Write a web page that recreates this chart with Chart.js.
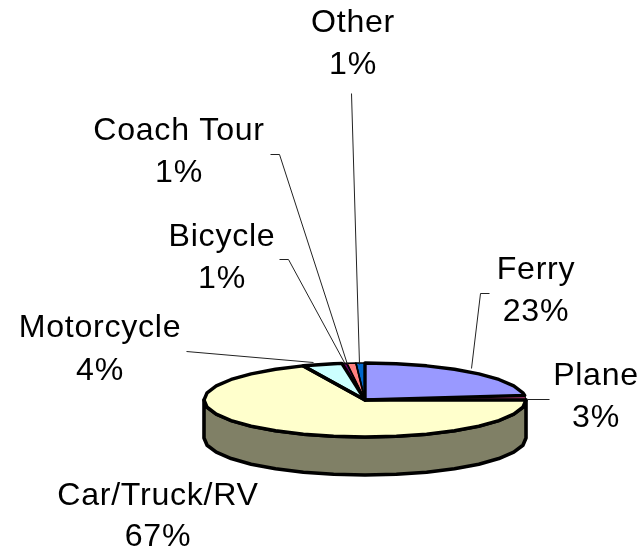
<!DOCTYPE html>
<html>
<head>
<meta charset="utf-8">
<style>html,body{margin:0;padding:0;background:#fff}#w{position:relative;width:641px;height:550px}</style>
<script src="https://cdn.jsdelivr.net/npm/chart.js@4/dist/chart.umd.min.js"></script>
</head>
<body>
<div id="w"><canvas id="c" width="641" height="550"></canvas></div>
<script>
const categories = ['Ferry','Plane','Car/Truck/RV','Motorcycle','Bicycle','Coach Tour','Other'];
const percentLabels = ['23%','3%','67%','4%','1%','1%','1%'];
// slice sizes as they appear on the tilted pie
const sliceSizes = [23,2,68.7,4,0.5,0.9,0.9];
const sliceColors = ['#9999FF','#993366','#FFFFCC','#CCFFFF','#660066','#FF8080','#0066CC'];
const sideColor = '#808066';

const pieCenter = {x:365,y:400}, radiusX = 161, radiusY = 37, depth = 38;
// label centre x, baseline of the first and second text rows
const labelPos = [[536,279,321],[596,385,427],[158,505,546],[100,337,380],[222,246,288],[179,140,182],[353,32,74]];
// outline width per slice
const outlineWidths = [3.4,1,3.4,3.4,1.6,1.6,1.6];
// leader polylines
const leaders = [
 [[489,293],[480,293],[471,368]],
 [[527,399],[549,399]],
 [],
 [[186,351],[313,362]],
 [[279,259],[288,259],[345,364]],
 [[270,154],[279,154],[347,364]],
 [[351,93],[359,364]]
];
const fontPx = 31.5, textStretch = 1.02, textSpacing = '0.7px';

function ePt(a,dy){return [pieCenter.x+radiusX*Math.cos(a), pieCenter.y+radiusY*Math.sin(a)+(dy||0)];}
function facet(ctx,a0,a1,dy){
  const step=Math.PI/16;
  let a=a0;
  while(true){
    const p=ePt(a,dy);ctx.lineTo(p[0],p[1]);
    if(a>=a1)break;
    const next=(Math.floor(a/step+1e-6)+1)*step;
    a=Math.min(next,a1);
  }
}
function facet2(ctx){
  const step=Math.PI/16;
  for(let a=Math.PI;a>=-1e-6;a-=step){const p=ePt(a,depth);ctx.lineTo(p[0],p[1]);}
}
const tiltPlugin={
  id:'tilt',
  beforeDatasetsDraw(chart){
    const ctx=chart.ctx;
    ctx.save();
    ctx.beginPath();
    facet(ctx,0,Math.PI,0);
    facet2(ctx);
    ctx.closePath();
    ctx.fillStyle=sideColor;ctx.fill();
    ctx.lineWidth=3.6;ctx.lineJoin='round';ctx.strokeStyle='#000';ctx.stroke();
    ctx.restore();
    const c=chart.getDatasetMeta(0).data[0];
    ctx.save();
    ctx.translate(0,pieCenter.y);
    ctx.scale(1,radiusY/radiusX);
    ctx.translate(0,-c.y);
    ctx.translate(pieCenter.x-c.x,0);
  },
  afterDatasetsDraw(chart){
    const ctx=chart.ctx;
    ctx.restore();
    const arcs=chart.getDatasetMeta(0).data;
    ctx.save();
    ctx.strokeStyle='#000';ctx.lineJoin='round';
    arcs.forEach((arc,i)=>{
      ctx.beginPath();
      ctx.moveTo(pieCenter.x,pieCenter.y);
      facet(ctx,arc.startAngle,arc.endAngle,0);
      ctx.closePath();
      ctx.lineWidth=outlineWidths[i];
      ctx.stroke();
    });
    ctx.lineWidth=1;ctx.strokeStyle='#222';
    leaders.forEach(l=>{
      if(!l.length)return;
      ctx.beginPath();
      l.forEach((p,j)=>j?ctx.lineTo(p[0]+.5,p[1]+.5):ctx.moveTo(p[0]+.5,p[1]+.5));
      ctx.stroke();
    });
    ctx.fillStyle='#000';ctx.textAlign='center';ctx.textBaseline='alphabetic';
    ctx.font=fontPx+'px "Liberation Sans", Arial, sans-serif';
    ctx.letterSpacing=textSpacing;
    categories.forEach((name,i)=>{
      const [x,y1,y2]=labelPos[i];
      [[name,y1],[percentLabels[i],y2]].forEach(([t,y])=>{
        ctx.save();ctx.translate(x,y);ctx.scale(textStretch,1);ctx.fillText(t,0,0);ctx.restore();
      });
    });
    ctx.restore();
  }
};
new Chart(document.getElementById('c'),{
  type:'pie',
  data:{labels:categories,datasets:[{data:sliceSizes,backgroundColor:sliceColors,borderWidth:0}]},
  options:{
    responsive:false,animation:false,radius:radiusX,
    layout:{padding:{left:89}},
    plugins:{legend:{display:false},tooltip:{enabled:false}}
  },
  plugins:[tiltPlugin]
});
</script>
</body>
</html>
